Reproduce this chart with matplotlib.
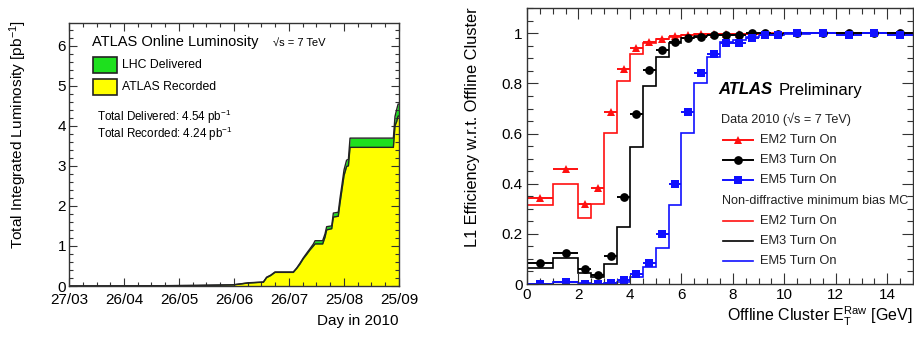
import numpy as np
import matplotlib
matplotlib.use("Agg")
import matplotlib.pyplot as plt
from matplotlib.patches import Rectangle
from matplotlib.ticker import MultipleLocator, FixedLocator

plt.rcParams['font.family'] = ['Liberation Sans', 'DejaVu Sans']
plt.rcParams['mathtext.fontset'] = 'custom'
plt.rcParams['mathtext.rm'] = 'Liberation Sans'
plt.rcParams['mathtext.it'] = 'Liberation Sans:italic'
plt.rcParams['mathtext.bf'] = 'Liberation Sans:bold'

# ---------------- Left panel data: integrated luminosity ----------------
lumi_day = [86.2, 130.7, 156.4, 176.6, 184.9, 193.2, 195.0, 197.2, 199.6, 209.7,
            211.6, 213.4, 215.2, 217.1, 218.9, 220.8, 221.7, 225.9, 227.2, 228.1,
            230.9, 231.8, 234.5, 235.5, 236.4, 237.7, 239.1, 240.1, 241.0, 264.9,
            265.8, 266.7, 267.5, 268.0]
lumi_delivered = [0.0, 0.005, 0.015, 0.03, 0.08, 0.10, 0.22, 0.27, 0.35, 0.35,
                  0.45, 0.57, 0.70, 0.82, 0.93, 1.05, 1.13, 1.13, 1.30, 1.48,
                  1.50, 1.82, 1.84, 2.20, 2.48, 2.90, 3.14, 3.16, 3.69, 3.69,
                  4.23, 4.40, 4.54, 4.54]
lumi_recorded = [0.0, 0.004, 0.013, 0.028, 0.075, 0.095, 0.21, 0.26, 0.34, 0.34,
                 0.44, 0.55, 0.68, 0.79, 0.90, 1.00, 1.05, 1.05, 1.22, 1.40,
                 1.43, 1.72, 1.74, 2.08, 2.36, 2.76, 2.98, 3.00, 3.46, 3.46,
                 4.00, 4.10, 4.24, 4.24]
date_labels = ['27/03', '26/04', '26/05', '26/06', '26/07', '25/08', '25/09']
day_start, day_end = 86, 268

# ---------------- Right panel data: L1 efficiency turn-on ----------------
bin_edges = [0, 1, 2, 2.5, 3, 3.5, 4, 4.5, 5, 5.5, 6, 6.5, 7, 7.5, 8, 8.5, 9, 9.5,
             10, 11, 12, 13, 14, 15]
em2_data = [0.342, 0.459, 0.319, 0.384, 0.686, 0.858, 0.940, 0.967, 0.979, 0.989,
            0.993, 0.996, 0.996, 0.997, 0.997, 0.998, 0.998, 0.999, 1.0, 1.0, 1.0, 1.0, 1.0]
em3_data = [0.082, 0.122, 0.061, 0.036, 0.113, 0.346, 0.677, 0.852, 0.934, 0.967,
            0.980, 0.985, 0.993, 0.995, 0.995, 1.0, 1.003, 0.998, 1.0, 1.0, 1.0, 1.0, 1.0]
em5_data = [0.0, 0.008, 0.0, 0.0, 0.004, 0.015, 0.039, 0.082, 0.198, 0.400,
            0.685, 0.843, 0.916, 0.960, 0.960, 0.983, 0.992, 0.993, 1.0, 1.001, 0.995, 1.0, 0.995]
em2_mc = [0.315, 0.398, 0.262, 0.319, 0.601, 0.810, 0.918, 0.960, 0.976, 0.987,
          0.993, 0.996, 0.997, 0.998, 0.998, 0.999, 0.999, 1.0, 1.0, 1.0, 1.0, 1.0, 1.0]
em3_mc = [0.0625, 0.102, 0.043, 0.027, 0.078, 0.229, 0.548, 0.791, 0.904, 0.960,
          0.980, 0.989, 0.993, 0.995, 0.996, 0.997, 0.998, 0.999, 1.0, 1.0, 1.0, 1.0, 1.0]
em5_mc = [0.0, 0.007, 0.002, 0.001, 0.003, 0.009, 0.029, 0.069, 0.142, 0.315,
          0.601, 0.800, 0.907, 0.967, 0.973, 0.985, 0.992, 0.995, 0.998, 1.0, 1.0, 1.0, 1.0]
series_names = ['EM2 Turn On', 'EM3 Turn On', 'EM5 Turn On']

W, H = 914, 338
fig = plt.figure(figsize=(W / 100, H / 100), dpi=100)


def fx(px):
    return px / W


def fy(py):
    return 1 - py / H


def root_ticks(ax, major_len, minor_len):
    ax.tick_params(which='both', direction='in', top=True, right=True, width=0.8,
                   colors='#333333', labelcolor='black')
    ax.tick_params(which='major', length=major_len)
    ax.tick_params(which='minor', length=minor_len)
    for s in ax.spines.values():
        s.set_linewidth(1.0)
        s.set_color('#333333')


# ================= Left panel =================
axL = fig.add_axes([fx(69), fy(286), fx(399 - 69), (286 - 22.7) / H])
green = '#1ee01e'
yellow = '#ffff00'
axL.fill_between(lumi_day, 0, lumi_delivered, color=green, lw=0)
axL.fill_between(lumi_day, 0, lumi_recorded, color=yellow, lw=0)
axL.plot(lumi_day, lumi_delivered, color='#222222', lw=1.0)
axL.plot(lumi_day, lumi_recorded, color='#222222', lw=1.0)
axL.set_xlim(day_start, day_end)
axL.set_ylim(0, 6.57)
ticks = np.linspace(day_start, day_end, len(date_labels))
axL.xaxis.set_major_locator(FixedLocator(ticks))
axL.set_xticklabels(date_labels)
axL.xaxis.set_minor_locator(FixedLocator(np.linspace(day_start, day_end, 4 * (len(date_labels) - 1) + 1)))
axL.yaxis.set_major_locator(MultipleLocator(1))
axL.yaxis.set_minor_locator(MultipleLocator(0.2))
root_ticks(axL, 6, 3)
axL.tick_params(axis='x', labelsize=11, pad=5)
axL.tick_params(axis='y', labelsize=11, pad=2)
axL.set_ylabel('Total Integrated Luminosity [pb$^{-1}$]', fontsize=11.1, loc='top', va='center')
axL.yaxis.set_label_coords(-0.155, 1.01)
axL.set_xlabel('Day in 2010', fontsize=11, loc='right')
axL.xaxis.set_label_coords(1.0, -0.108)

fig.text(fx(91.7), fy(41.7), 'ATLAS Online Luminosity', fontsize=10.5, va='center', ha='left')
fig.text(fx(273), fy(42.5), '\u221As = 7 TeV', fontsize=8, va='center', ha='left')
for (y0, y1, col, lab) in [(57.3, 72.7, green, 'LHC Delivered'), (79.3, 95.0, yellow, 'ATLAS Recorded')]:
    fig.patches.append(Rectangle((fx(92.7), fy(y1)), fx(116.7) - fx(92.7), fy(y0) - fy(y1),
                                 transform=fig.transFigure, facecolor=col, edgecolor='#222222', lw=1.2))
    fig.text(fx(121.7), fy((y0 + y1) / 2), lab, fontsize=8.8, va='center', ha='left')
fig.text(fx(97.3), fy(117.3), 'Total Delivered: 4.54 pb$^{-1}$', fontsize=8.4, va='center', ha='left')
fig.text(fx(97.3), fy(133.8), 'Total Recorded: 4.24 pb$^{-1}$', fontsize=8.4, va='center', ha='left')

# ================= Right panel =================
axR = fig.add_axes([fx(527), fy(284), fx(913 - 527), (284 - 8.3) / H])
edges = np.array(bin_edges)
centers = (edges[:-1] + edges[1:]) / 2
halfw = (edges[1:] - edges[:-1]) / 2
colors = ['#ff1010', 'black', '#1010ff']
markers = ['^', 'o', 's']
for mc, c in zip([em2_mc, em3_mc, em5_mc], colors):
    axR.stairs(mc, edges, color=c, lw=1.2, baseline=None)
for d, c, m in zip([em2_data, em3_data, em5_data], colors, markers):
    axR.errorbar(centers, d, xerr=halfw, fmt=m, color=c, ms=6.3, elinewidth=1.4, capsize=0, mew=0)
axR.set_xlim(0, 15)
axR.set_ylim(0, 1.1)
axR.xaxis.set_major_locator(MultipleLocator(2))
axR.xaxis.set_minor_locator(MultipleLocator(0.5))
axR.yaxis.set_major_locator(FixedLocator([0, 0.2, 0.4, 0.6, 0.8, 1.0]))
axR.set_yticklabels(['0', '0.2', '0.4', '0.6', '0.8', '1'])
axR.yaxis.set_minor_locator(MultipleLocator(0.05))
root_ticks(axR, 8, 4)
axR.tick_params(axis='both', labelsize=11, pad=3)
axR.set_ylabel('L1 Efficiency w.r.t. Offline Cluster', fontsize=11.8, loc='top', va='center')
axR.yaxis.set_label_coords(-0.142, 1.005)
axR.set_xlabel('Offline Cluster E$_\\mathrm{T}^\\mathrm{Raw}$ [GeV]', fontsize=11.5, loc='right')
axR.xaxis.set_label_coords(1.0, -0.075)

fig.text(fx(718), fy(90), 'ATLAS', fontsize=12, fontweight='bold', fontstyle='italic',
         va='center', ha='left')
fig.text(fx(779), fy(90), 'Preliminary', fontsize=12, va='center', ha='left')
fig.text(fx(721), fy(119), 'Data 2010 (\u221As = 7 TeV)', fontsize=9.1, va='center', ha='left', color='#222222')
fig.text(fx(721.7), fy(201), 'Non-diffractive minimum bias MC', fontsize=9.1, va='center', ha='left', color='#222222')
for i, (c, m, name) in enumerate(zip(colors, markers, series_names)):
    yd = fy(140 + 20 * i)
    ym = fy(221 + 20 * i)
    fig.add_artist(plt.Line2D([fx(723), fx(753)], [yd, yd], color=c, lw=1.4, transform=fig.transFigure))
    fig.add_artist(plt.Line2D([fx(738)], [yd], color=c, marker=m, ms=6.3, mew=0, transform=fig.transFigure))
    fig.text(fx(760), yd, name, fontsize=9.3, va='center', ha='left', color='#222222')
    fig.add_artist(plt.Line2D([fx(723), fx(753)], [ym, ym], color=c, lw=1.2, transform=fig.transFigure))
    fig.text(fx(760), ym, name, fontsize=9.3, va='center', ha='left', color='#222222')

fig.savefig('out.png', dpi=100)
